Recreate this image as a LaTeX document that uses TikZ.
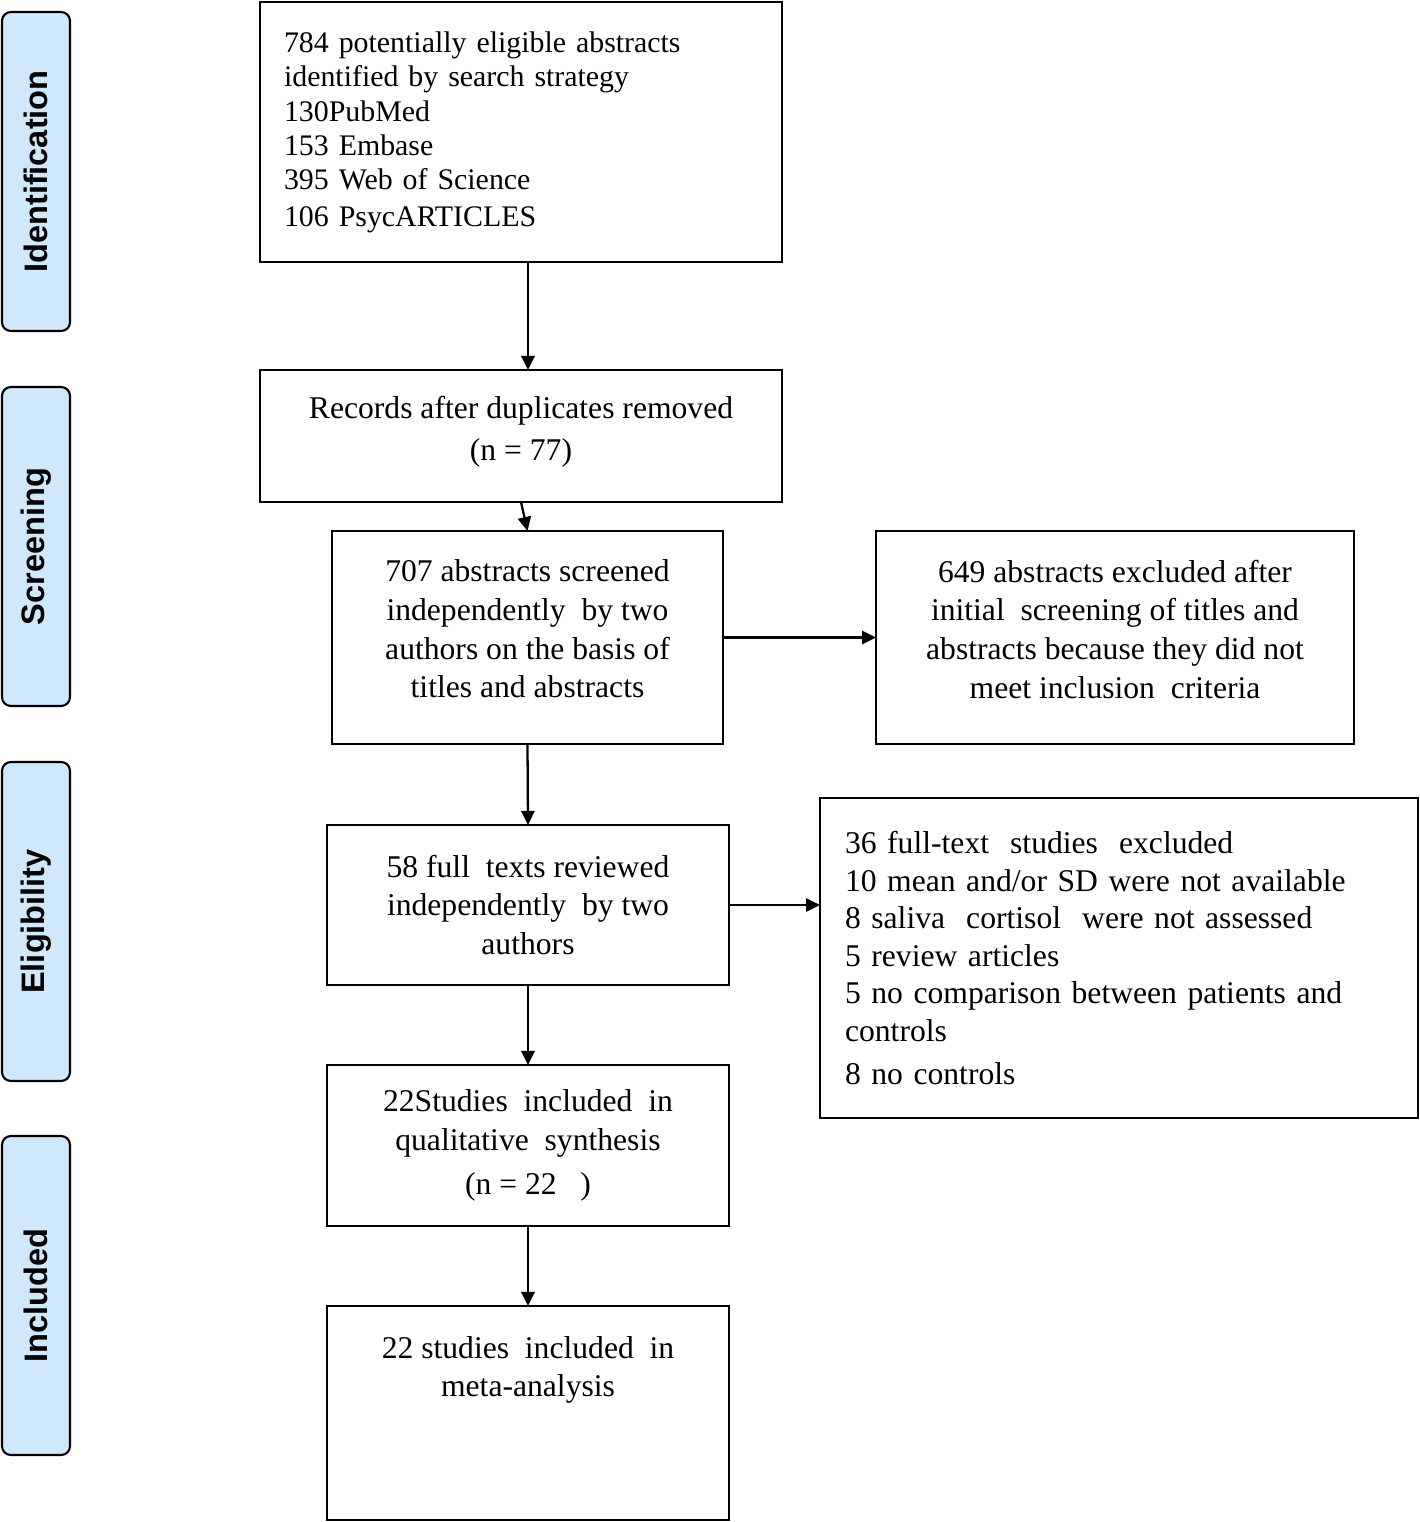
\documentclass[tikz,border=0pt]{standalone}
\usepackage{fontspec}
\setmainfont{Liberation Serif}
\setsansfont{Liberation Sans}
\usepackage{xcolor}
\definecolor{phase_blue}{RGB}{207, 232, 252}
\usetikzlibrary{arrows.meta, positioning}

\begin{document}
\begin{tikzpicture}[x=0.02cm, y=-0.02cm,
        phase/.style={draw, line width=1.2pt, fill=phase_blue, rounded corners=5pt,
              rotate=90, minimum width=6.38cm, minimum height=1.36cm,
              inner sep=0pt, font=\fontsize{18.5}{22}\selectfont\sffamily\bfseries},
        box/.style={draw, line width=1.1pt, inner sep=0pt, outer sep=0pt,
              align=center, font=\fontsize{18}{22}\selectfont},
        arr/.style={-{Triangle[length=8pt, width=7.5pt]}, line width=1.3pt}]
        \useasboundingbox (0,0) rectangle (1420,1522);
        % phases on the left
        \node[phase] (idn) at (36,171.5) {Identification};
        \node[phase] (scn) at (36,546.5) {Screening};
        \node[phase] (elg) at (36,921.5) {Eligibility};
        \node[phase] (inc) at (36,1295.5) {Included};
        % flow boxes
        \node[box, align=left, text width=9.48cm, minimum width=10.44cm,
              minimum height=5.2cm, font=\fontsize{17}{19.6}\selectfont]
              (ident) at (521,132)
              {784 potentially eligible abstracts\\
               identified by search strategy\\
               130PubMed\\
               153 Embase\\
               395 Web of Science\\[1pt]
               106 PsycARTICLES};
        \node[box, minimum width=10.44cm, minimum height=2.64cm]
              (rec) at (521,436)
              {Records after duplicates removed\\[1.5pt](n = 77)\\[-13.4pt]};
        \node[box, minimum width=7.82cm, minimum height=4.26cm]
              (scr) at (527.5,637.5)
              {707 abstracts screened\\independently\ \ by two\\
               authors on the basis of\\titles and abstracts\\[-12.3pt]};
        \node[box, minimum width=9.56cm, minimum height=4.26cm]
              (ex1) at (1115,637.5)
              {649 abstracts excluded after\\initial\ \ screening of titles and\\
               abstracts because they did not\\meet inclusion\ \ criteria\\[-12.3pt]};
        \node[box, minimum width=8.04cm, minimum height=3.2cm]
              (full) at (528,905)
              {58 full\ \ texts reviewed\\independently\ \ by two\\authors};
        \node[box, align=left, text width=10.96cm, minimum width=11.96cm,
              minimum height=6.4cm, font=\fontsize{18}{21.4}\selectfont]
              (ex2) at (1119,958)
              {36 full-text\ \ studies\ \ excluded\\
               10 mean and/or SD were not available\\
               8 saliva\ \ cortisol\ \ were not assessed\\
               5 review articles\\
               5 no comparison between patients and\\
               controls\\[3pt]
               8 no controls\\[6pt]};
        \node[box, minimum width=8.04cm, minimum height=3.22cm]
              (qual) at (528,1145.5)
              {22Studies\ \ included\ \ in\\qualitative\ \ synthesis\\[3pt](n = 22\ \ \ )};
        \node[box, minimum width=8.04cm, minimum height=4.28cm]
              (meta) at (528,1413)
              {22 studies\ \ included\ \ in\\meta-analysis\\[31pt]};
        % connectors
        \draw[arr] (ident.south -| full) -- (rec.north -| full);
        \draw[arr] (rec.south) -- (scr.north);
        \draw[arr] (scr.east) -- (ex1.west);
        \draw[arr] (scr.south) -- (full.north);
        \draw[arr] (full.east) -- (full.east -| ex2.west);
        \draw[arr] (full.south) -- (qual.north);
        \draw[arr] (qual.south) -- (meta.north);
\end{tikzpicture}
\end{document}
